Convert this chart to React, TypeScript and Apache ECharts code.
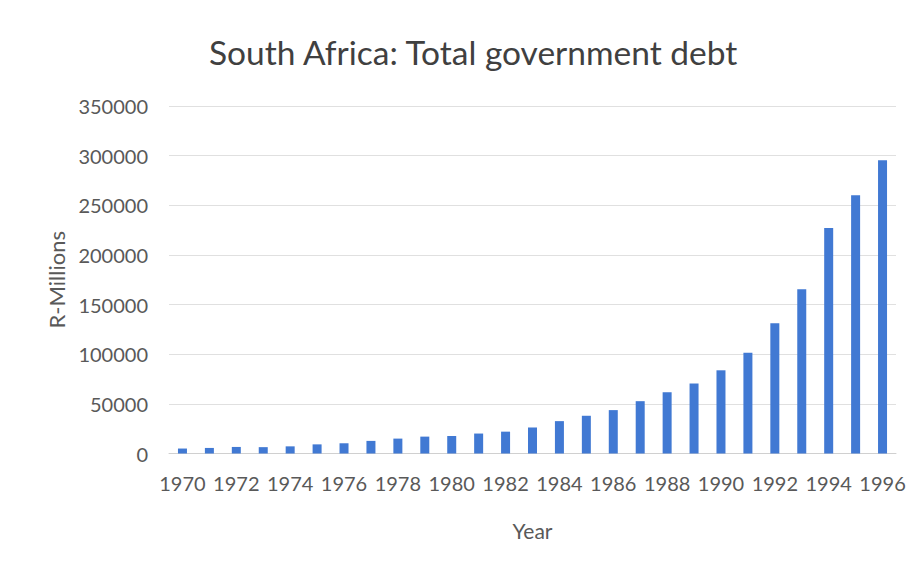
import React, { useEffect, useRef } from "react";
import * as echarts from "echarts";

const years = [
  "1970", "1971", "1972", "1973", "1974", "1975", "1976", "1977", "1978",
  "1979", "1980", "1981", "1982", "1983", "1984", "1985", "1986", "1987",
  "1988", "1989", "1990", "1991", "1992", "1993", "1994", "1995", "1996",
];
const debt = [
  5000, 5600, 6600, 6400, 7200, 9200, 10300, 12700, 15000,
  17000, 17600, 20100, 22000, 26200, 32600, 38000, 43700, 52700,
  61700, 70500, 83800, 101600, 131300, 165500, 227100, 260200, 295400,
];
const titleText = "South Africa: Total government debt";
const xName = "Year";
const yName = "R-Millions";

const FONT = "Lato, 'Open Sans', sans-serif";

export default function App() {
  const ref = useRef<HTMLDivElement>(null);
  useEffect(() => {
    if (!ref.current) return;
    const chart = echarts.init(ref.current, null, { renderer: "svg" });
    chart.setOption({
      animation: false,
      backgroundColor: "#ffffff",
      textStyle: { fontFamily: FONT },
      title: {
        text: titleText,
        left: 204,
        top: 30,
        textStyle: { fontSize: 33.5, fontWeight: "normal", color: "#404040", fontFamily: FONT },
      },
      grid: { left: 169, right: 18, top: 106, bottom: 110.5 },
      xAxis: {
        type: "category",
        data: years,
        name: xName,
        nameLocation: "middle",
        nameGap: 66,
        nameTextStyle: { fontSize: 21, color: "#595959", fontFamily: FONT },
        axisTick: { show: false },
        axisLine: { lineStyle: { color: "#d0d0d0" } },
        axisLabel: { interval: 1, fontSize: 20, color: "#595959", margin: 19, fontFamily: FONT },
      },
      yAxis: {
        type: "value",
        min: 0,
        max: 350000,
        interval: 50000,
        name: yName,
        nameLocation: "middle",
        nameGap: 100,
        nameTextStyle: { fontSize: 22, color: "#595959", fontFamily: FONT },
        axisLine: { show: false },
        axisTick: { show: false },
        axisLabel: {
          fontSize: 20,
          color: "#595959",
          margin: 21,
          fontFamily: FONT,
          formatter: (v: number) => String(v),
        },
        splitLine: { lineStyle: { color: "#e0e0e0" } },
      },
      series: [
        {
          type: "bar",
          data: debt,
          barWidth: 9,
          itemStyle: { color: "#4179d3" },
        },
      ],
    });
    return () => chart.dispose();
  }, []);
  return (
    <div
      ref={ref}
      style={{ position: "fixed", left: 0, top: 0, width: 914, height: 564 }}
    />
  );
}
